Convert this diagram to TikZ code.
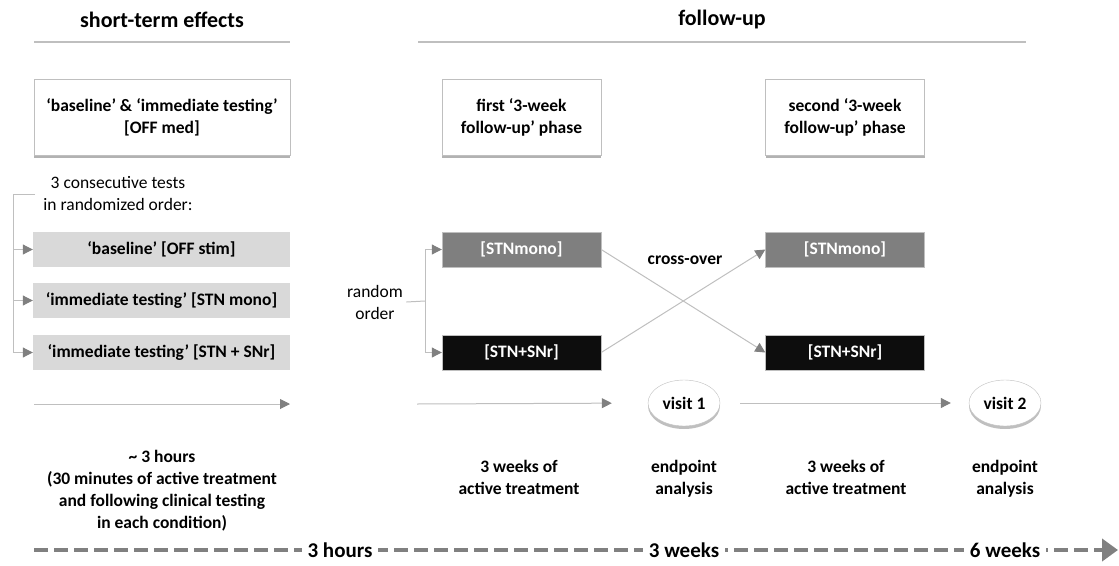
\documentclass[tikz,border=0pt]{standalone}
\usepackage{fontspec}
\setmainfont{Carlito}
\usetikzlibrary{arrows.meta,shadows,shapes.geometric}

\definecolor{linegray}{HTML}{BFBFBF}
\definecolor{tipgray}{HTML}{808080}
\definecolor{lightbox}{HTML}{D9D9D9}
\definecolor{midbox}{HTML}{7F7F7F}
\definecolor{darkbox}{HTML}{0D0D0D}

\newcommand{\diagfont}{\fontsize{17.5}{22}\selectfont}
\newcommand{\headfont}{\fontsize{22}{26}\selectfont\bfseries}
\newcommand{\markfont}{\fontsize{21}{24}\selectfont\bfseries}

\tikzstyle{head line}=[draw=linegray,line width=1.2pt]
\tikzstyle{phase box}=[draw=linegray,fill=white,minimum height=76pt,align=center,font=\diagfont\bfseries,
  drop shadow={shadow xshift=0pt,shadow yshift=-3pt,fill=black,opacity=.3}]
\tikzstyle{test box}=[fill=lightbox,minimum width=257pt,minimum height=35pt,font=\diagfont\bfseries]
\tikzstyle{arm box}=[draw=linegray,minimum width=159pt,minimum height=35pt,text=white,font=\diagfont\bfseries]
\tikzstyle{visit}=[ellipse,draw=linegray,fill=white,minimum width=72pt,minimum height=46pt,inner sep=1pt,font=\diagfont\bfseries,
  drop shadow={shadow xshift=0pt,shadow yshift=-3pt,fill=black,opacity=.25}]
\tikzstyle{plain text}=[align=center,font=\diagfont]
\tikzstyle{bold text}=[align=center,font=\diagfont\bfseries]
\tikzstyle{link}=[draw=linegray,line width=1pt]
\tikzstyle{tip link}=[link,-{Triangle[length=10pt,width=10pt,color=tipgray]}]
\tikzstyle{time line}=[draw=tipgray,line width=4pt,dash pattern=on 14pt off 6pt,
  -{Triangle[length=16pt,width=22pt,color=tipgray]}]
\tikzstyle{time mark}=[fill=white,font=\markfont,inner xsep=6pt]

\begin{document}
\begin{tikzpicture}[x=1pt,y=-1pt]
  \useasboundingbox (0,0) rectangle (1119,565);
  % headings
  \node[font=\headfont] (short) at (162,20) {short-term effects};
  \node[font=\headfont] (follow) at (722,20) {follow-up};
  \path[head line] (34,42) -- (290,42);
  \path[head line] (418,42) -- (1026,42);

  % phase boxes
  \node[phase box,minimum width=256pt] (base) at (162,117) {‘baseline’ \& ‘immediate testing’\\{[OFF med]}};
  \node[phase box,minimum width=159pt] (first) at (521.5,117) {first ‘3-week\\follow-up’ phase};
  \node[phase box,minimum width=159pt] (second) at (845,117) {second ‘3-week\\follow-up’ phase};

  % short-term tests
  \node[plain text] (consec) at (118,194) {3 consecutive tests\\in randomized order:};
  \node[test box] (offstim) at (161.5,249.5) {‘baseline’ [OFF stim]};
  \node[test box] (stnmono) at (161.5,300.5) {‘immediate testing’ [STN mono]};
  \node[test box] (stnsnr) at (161.5,352.5) {‘immediate testing’ [STN + SNr]};
  \coordinate (brtop) at (13,194);
  \coordinate (brend) at (35,194);
  \path[link] (brend) -- (brtop) -- (brtop |- stnsnr);
  \foreach \dest in {offstim, stnmono, stnsnr}
    \path[tip link] (brtop |- \dest) -- (\dest.west);

  % follow-up arms
  \node[arm box,fill=midbox] (monoA) at (521.5,249.5) {[STNmono]};
  \node[arm box,fill=darkbox] (snrA) at (521.5,352.5) {[STN+SNr]};
  \node[arm box,fill=midbox] (monoB) at (845,249.5) {[STNmono]};
  \node[arm box,fill=darkbox] (snrB) at (845,352.5) {[STN+SNr]};
  \node[plain text] (random) at (375,302) {random\\order};
  \coordinate (split) at (425,301);
  \path[link] (random.east) -- (split);
  \path[link] (split |- monoA) -- (split |- snrA);
  \foreach \dest in {monoA, snrA}
    \path[tip link] (split |- \dest) -- (\dest.west);
  \path[tip link] (monoA.east) -- (snrB.west);
  \path[tip link] (snrA.east) -- (monoB.west);
  \node[bold text] (cross) at (685,260) {cross-over};

  % visits
  \node[visit] (visit1) at (684,403) {visit 1};
  \node[visit] (visit2) at (1005,403) {visit 2};
  \coordinate (st0) at (34,404);
  \coordinate (st1) at (290,404);
  \coordinate (fu0) at (417,404);
  \path[tip link] (st0) -- (st1);
  \path[tip link,shorten >=36pt] (fu0) -- (visit1.west);
  \path[tip link,shorten <=20pt,shorten >=18pt] (visit1.east) -- (visit2.west);

  % descriptions
  \node[bold text] (hours) at (162,491) {\textasciitilde\ 3 hours\\(30 minutes of active treatment\\and following clinical testing\\in each condition)};
  \node[bold text,anchor=base] (weeksA) at (519,494) {3 weeks of\\active treatment};
  \node[bold text,anchor=base] (endA) at (684,494) {endpoint\\analysis};
  \node[bold text,anchor=base] (weeksB) at (846,494) {3 weeks of\\active treatment};
  \node[bold text,anchor=base] (endB) at (1005,494) {endpoint\\analysis};

  % time axis
  \coordinate (t0) at (34,550);
  \coordinate (t1) at (1118,550);
  \path[time line] (t0) -- (t1);
  \node[time mark] (h3) at (340,550) {3 hours};
  \node[time mark] (w3) at (684,550) {3 weeks};
  \node[time mark] (w6) at (1005,550) {6 weeks};
\end{tikzpicture}
\end{document}
